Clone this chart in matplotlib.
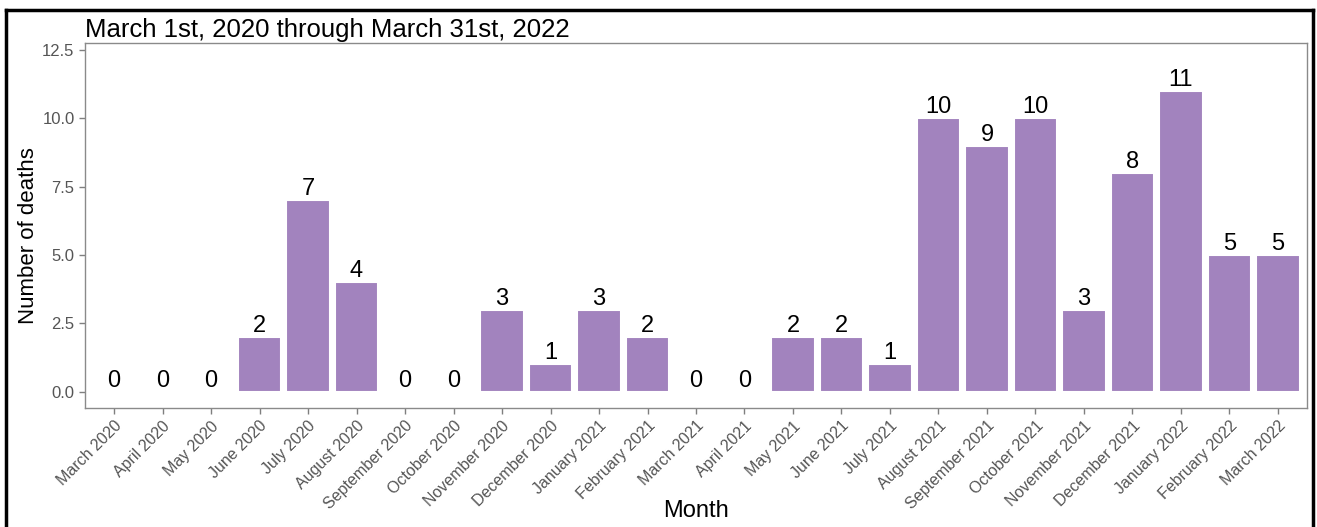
import numpy as np
import matplotlib.pyplot as plt
from matplotlib.lines import Line2D

plt.rcParams["font.family"] = ["Liberation Sans", "DejaVu Sans"]

months = ["March 2020", "April 2020", "May 2020", "June 2020", "July 2020",
          "August 2020", "September 2020", "October 2020", "November 2020",
          "December 2020", "January 2021", "February 2021", "March 2021",
          "April 2021", "May 2021", "June 2021", "July 2021", "August 2021",
          "September 2021", "October 2021", "November 2021", "December 2021",
          "January 2022", "February 2022", "March 2022"]
deaths = [0, 0, 0, 2, 7, 4, 0, 0, 3, 1, 3, 2, 0, 0, 2, 2, 1, 10, 9, 10, 3, 8, 11, 5, 5]
yticks = [0.0, 2.5, 5.0, 7.5, 10.0, 12.5]

W, H = 1317, 527
fig = plt.figure(figsize=(W / 100, H / 100), dpi=100)
ax = fig.add_axes([85 / W, 1 - 408 / H, (1307 - 85) / W, (408 - 43) / H])

x = np.arange(len(months))
ax.bar(x, deaths, width=0.9, color="#a283be", edgecolor="white", linewidth=1.5)
for xi, d in zip(x, deaths):
    ax.text(xi, d + 0.0, str(d), ha="center", va="bottom", fontsize=17, color="black")

ax.set_xlim(-0.6, 24.6)
ax.set_ylim(-0.6, 12.75)
ax.set_xticks(x)
ax.set_xticklabels(months, rotation=45, ha="right", rotation_mode="anchor",
                   fontsize=11.5, color="#555555")
ax.set_yticks(yticks)
ax.set_yticklabels([f"{v:.1f}" for v in yticks], fontsize=12, color="#555555")
ax.tick_params(axis="both", direction="out", length=4, color="#7f7f7f", width=1)
for s in ax.spines.values():
    s.set_color("#8a8a8a")
    s.set_linewidth(1.0)

fig.text(696 / W, 1 - 511 / H, "Month", ha="center", va="center", fontsize=17)
fig.text(29 / W, 1 - 236 / H, "Number of deaths", ha="center", va="center",
         rotation=90, fontsize=16)
ax.set_title("March 1st, 2020 through March 31st, 2022", loc="left", fontsize=18.5,
             pad=4)

# outer black frame
def fx(px):
    return px / W
def fy(py):
    return 1 - py / H
for xs, ys in [([6, 6], [10, 540]), ([6, 1313], [10, 10]), ([1313, 1313], [10, 540])]:
    fig.add_artist(Line2D([fx(v) for v in xs], [fy(v) for v in ys],
                          color="black", linewidth=2.5, transform=fig.transFigure))

fig.savefig("out.png", dpi=100)
